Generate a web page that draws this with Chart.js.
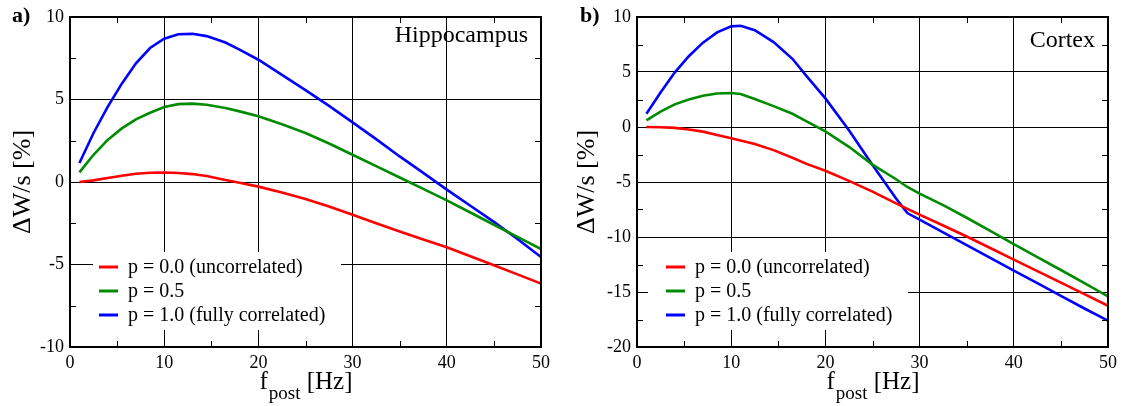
<!DOCTYPE html>
<html>
<head>
<title>ΔW/s vs f_post</title>
<script src="https://cdn.jsdelivr.net/npm/chart.js@4.4.0/dist/chart.umd.min.js"></script>
<style>
    body { margin: 0; background: #fff; }
    canvas { position: absolute; top: 0; }
</style>
</head>
<body>
<canvas id="hippo" width="561" height="406" style="left:0"></canvas>
<canvas id="cortex" width="561" height="406" style="left:561px"></canvas>
<script>
// --- data ---
const legendLabels = ['p = 0.0 (uncorrelated)', 'p = 0.5', 'p = 1.0 (fully correlated)'];
const seriesColors = ['#ff0000', '#008b00', '#0000ff'];

// a) Hippocampus
const fHippo = [1, 2.5, 4, 5.5, 7, 8.5, 10, 11.5, 13, 14.5, 16.5, 18, 20, 22.5, 25, 27.5, 30, 32.5, 35, 37.5, 40, 42.5, 45, 47.5, 50];
const hippoP00 = [0, 0.1, 0.24, 0.38, 0.5, 0.56, 0.58, 0.55, 0.48, 0.36, 0.12, -0.04, -0.28, -0.64, -1.03, -1.48, -1.98, -2.5, -3.0, -3.48, -3.95, -4.5, -5.05, -5.6, -6.16];
const hippoP05 = [0.58, 1.65, 2.55, 3.25, 3.8, 4.2, 4.55, 4.72, 4.75, 4.68, 4.48, 4.28, 3.98, 3.5, 2.97, 2.33, 1.65, 0.96, 0.27, -0.42, -1.11, -1.85, -2.59, -3.33, -4.06];
const hippoP10 = [1.15, 2.97, 4.55, 5.96, 7.19, 8.12, 8.68, 8.95, 8.98, 8.84, 8.45, 8.02, 7.41, 6.49, 5.57, 4.61, 3.61, 2.6, 1.55, 0.55, -0.46, -1.44, -2.42, -3.45, -4.55];
const hippoYRange = [-10, 10];

// b) Cortex
const fCortex = [1, 2.5, 4, 5.5, 7, 8.5, 10, 11, 12.5, 14.5, 16.5, 18, 20, 22.5, 25, 27.5, 28.7, 30, 32.5, 35, 37.5, 40, 42.5, 45, 47.5, 50];
const cortexP00 = [0, -0.02, -0.08, -0.22, -0.42, -0.72, -1.02, -1.22, -1.55, -2.1, -2.8, -3.35, -3.98, -4.9, -5.88, -6.95, -7.45, -7.97, -8.95, -9.95, -11.0, -12.06, -13.1, -14.15, -15.2, -16.25];
const cortexP05 = [0.6, 1.4, 2.06, 2.5, 2.85, 3.05, 3.09, 3.0, 2.54, 1.9, 1.2, 0.52, -0.4, -1.8, -3.42, -4.75, -5.45, -6.05, -7.1, -8.25, -9.45, -10.64, -11.83, -13.0, -14.2, -15.4];
const cortexP10 = [1.2, 3.13, 4.95, 6.43, 7.67, 8.6, 9.15, 9.21, 8.8, 7.72, 6.2, 4.63, 2.6, -0.3, -3.45, -6.5, -7.82, -8.43, -9.58, -10.73, -11.9, -13.06, -14.2, -15.35, -16.5, -17.6];
const cortexYRange = [-20, 10];

const xRange = [0, 50];

const SERIF = "'Liberation Serif', 'Times New Roman', serif";
Chart.defaults.font.family = SERIF;
Chart.defaults.color = '#000';

// frame, minor ticks, legend and axis titles drawn around the plot
const decorPlugin = {
    id: 'decor',
    beforeDatasetsDraw(chart, args, opts) {
        const ctx = chart.ctx, area = chart.chartArea;
        ctx.save();
        ctx.fillStyle = '#fff';
        ctx.fillRect(area.left + opts.boxLeft, 252, opts.boxRight - opts.boxLeft, 78);
        ctx.font = '20px ' + SERIF;
        ctx.textBaseline = 'middle';
        ctx.textAlign = 'left';
        chart.data.datasets.forEach((ds, i) => {
            const y = 267 + i * 24;
            ctx.strokeStyle = ds.borderColor;
            ctx.lineWidth = 3;
            ctx.beginPath();
            ctx.moveTo(area.left + 29, y);
            ctx.lineTo(area.left + 48, y);
            ctx.stroke();
            ctx.fillStyle = '#000';
            ctx.fillText(ds.label, area.left + 58, y + 1);
        });
        ctx.restore();
    },
    afterDraw(chart, args, opts) {
        const ctx = chart.ctx, area = chart.chartArea;
        const xs = chart.scales.x, ys = chart.scales.y;
        ctx.save();
        ctx.strokeStyle = '#000';
        ctx.lineWidth = 1;
        ctx.beginPath();
        for (let v = xs.min + 5; v < xs.max; v += 10) {
            const px = Math.round(xs.getPixelForValue(v)) + 0.5;
            ctx.moveTo(px, area.bottom); ctx.lineTo(px, area.bottom - 6);
            ctx.moveTo(px, area.top); ctx.lineTo(px, area.top + 6);
        }
        for (let v = ys.min + 2.5; v < ys.max; v += 5) {
            const py = Math.round(ys.getPixelForValue(v)) + 0.5;
            ctx.moveTo(area.left, py); ctx.lineTo(area.left + 6, py);
            ctx.moveTo(area.right, py); ctx.lineTo(area.right - 6, py);
        }
        ctx.stroke();

        ctx.lineWidth = 2;
        ctx.strokeRect(area.left, area.top, area.right - area.left, area.bottom - area.top);

        ctx.fillStyle = '#000';
        // region name
        ctx.font = '24px ' + SERIF;
        ctx.textAlign = 'right';
        ctx.textBaseline = 'alphabetic';
        ctx.fillText(opts.region, area.right - 13, opts.regionY);

        // panel letter
        ctx.font = 'bold 22px ' + SERIF;
        ctx.textAlign = 'left';
        ctx.fillText(opts.panel, opts.panelX, 22);

        // y title
        ctx.save();
        ctx.translate(area.left - opts.yTitleOffset, (area.top + area.bottom) / 2);
        ctx.rotate(-Math.PI / 2);
        ctx.font = '26px ' + SERIF;
        ctx.textAlign = 'center';
        ctx.textBaseline = 'middle';
        ctx.fillText('ΔW/s [%]', 0, 0);
        ctx.restore();

        // x title with subscript
        const big = '25px ' + SERIF, small = '19px ' + SERIF;
        ctx.font = big; const wF = ctx.measureText('f').width; const wHz = ctx.measureText(' [Hz]').width;
        ctx.font = small; const wPost = ctx.measureText('post').width;
        let x = (area.left + area.right) / 2 - (wF + wPost + wHz) / 2;
        ctx.textAlign = 'left';
        ctx.font = big; ctx.fillText('f', x, 389); x += wF + 1;
        ctx.font = small; ctx.fillText('post', x, 399); x += wPost;
        ctx.font = big; ctx.fillText(' [Hz]', x, 389);
        ctx.restore();
    }
};

function makePanel(id, fs, series, yRange, extra) {
    return new Chart(document.getElementById(id), {
        type: 'line',
        data: {
            datasets: series.map((vals, i) => ({
                label: legendLabels[i],
                data: fs.map((f, j) => ({ x: f, y: vals[j] })),
                borderColor: seriesColors[i],
                borderWidth: 2.6,
                pointRadius: 0,
                tension: 0,
                fill: false
            }))
        },
        options: {
            responsive: false,
            animation: false,
            layout: { padding: { top: 17, right: extra.padRight, left: 0, bottom: 0 } },
            scales: {
                x: {
                    type: 'linear',
                    min: xRange[0], max: xRange[1],
                    afterFit(scale) { scale.height = 59; },
                    grid: { color: '#000', lineWidth: 1, drawTicks: false },
                    border: { display: false },
                    ticks: { stepSize: 10, maxRotation: 0, padding: 5, font: { size: 18 }, color: '#000' }
                },
                y: {
                    min: yRange[0], max: yRange[1],
                    afterFit(scale) { scale.width = extra.axisWidth; },
                    grid: { color: '#000', lineWidth: 1, drawTicks: false },
                    border: { display: false },
                    ticks: { stepSize: 5, padding: 6, font: { size: 18 }, color: '#000' }
                }
            },
            plugins: {
                legend: { display: false },
                tooltip: { enabled: false },
                decor: extra
            }
        },
        plugins: [decorPlugin]
    });
}

makePanel('hippo', fHippo, [hippoP00, hippoP05, hippoP10], hippoYRange, {
    padRight: 20, axisWidth: 70, region: 'Hippocampus', regionY: 42,
    panel: 'a)', panelX: 12, yTitleOffset: 47, boxLeft: 23, boxRight: 271
});
makePanel('cortex', fCortex, [cortexP00, cortexP05, cortexP10], cortexYRange, {
    padRight: 14, axisWidth: 76, region: 'Cortex', regionY: 47,
    panel: 'b)', panelX: 19, yTitleOffset: 50, boxLeft: 11, boxRight: 271
});
</script>
</body>
</html>
